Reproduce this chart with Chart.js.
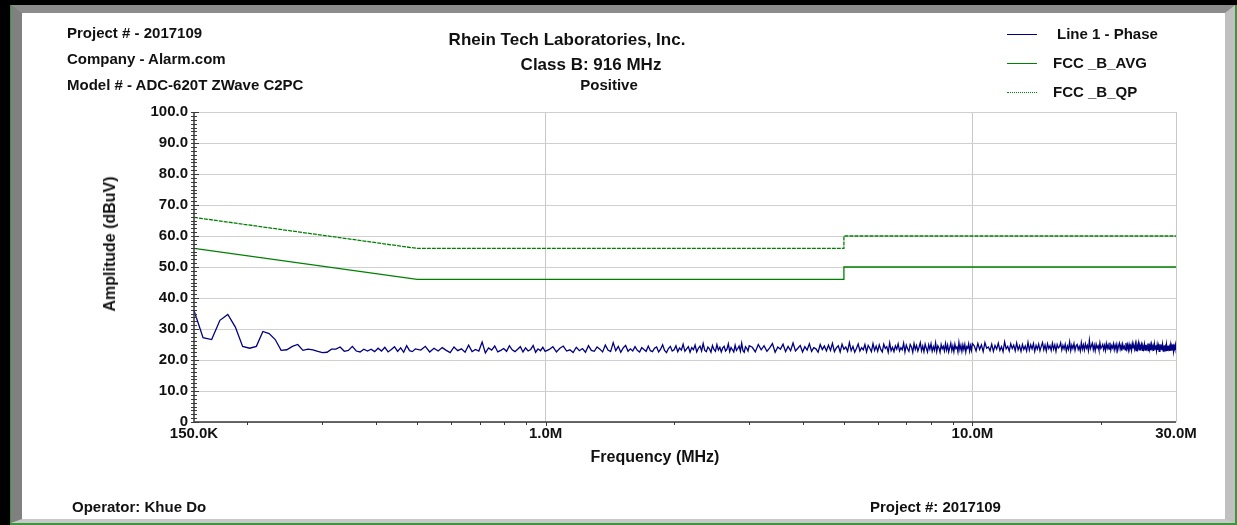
<!DOCTYPE html>
<html>
<head>
<meta charset="utf-8">
<script src="https://cdn.jsdelivr.net/npm/chart.js@4.4.0/dist/chart.umd.min.js"></script>
<style>
  html, body { margin: 0; padding: 0; }
  body { width: 1237px; height: 525px; background: #000; position: relative; overflow: hidden;
         font-family: "Liberation Sans", Arial, sans-serif; font-weight: bold; color: #111; }
  #frame { position: absolute; left: 10px; top: 5px; right: 0; bottom: 0;
           border-left: 1px solid #3c963c; border-right: 2px solid #3c963c; border-bottom: 2px solid #3c963c; }
  #bevel { position: absolute; left: 0; top: 0; right: 0; bottom: 0; background: #fff;
           border-style: solid; border-width: 8px 10px 4px 11px;
           border-color: #8c8c8c #c0c0c0 #c8c8c8 #808080; }
  #chart { position: absolute; left: 0; top: 0; }
  .txt { position: absolute; white-space: nowrap; }
  .legline { position: absolute; width: 30px; height: 0; }
</style>
</head>
<body>
<div id="frame"><div id="bevel"></div></div>
<canvas id="chart" width="1237" height="525"></canvas>

<div class="txt" style="left:67px; top:24px; font-size:15px; line-height:18px;">Project # - 2017109</div>
<div class="txt" style="left:67px; top:50px; font-size:15px; line-height:18px;">Company - Alarm.com</div>
<div class="txt" style="left:67px; top:76px; font-size:15px; line-height:18px;">Model # - ADC-620T ZWave C2PC</div>

<div class="txt" style="left:567px; top:30px; font-size:17px; line-height:20px; transform:translateX(-50%);">Rhein Tech Laboratories, Inc.</div>
<div class="txt" style="left:591px; top:55px; font-size:17px; line-height:20px; transform:translateX(-50%);">Class B: 916 MHz</div>
<div class="txt" style="left:609px; top:76px; font-size:15px; line-height:18px; transform:translateX(-50%);">Positive</div>

<div id="legend"></div>

<div class="txt" style="left:110px; top:244px; font-size:16px; line-height:18px; transform:translate(-50%,-50%) rotate(-90deg);">Amplitude (dBuV)</div>
<div class="txt" style="left:655px; top:448px; font-size:16px; line-height:18px; transform:translateX(-50%);">Frequency (MHz)</div>

<div class="txt" style="left:72px; top:498px; font-size:15px; line-height:18px;">Operator: Khue Do</div>
<div class="txt" style="left:870px; top:498px; font-size:15px; line-height:18px;">Project #: 2017109</div>

<script>
// limit lines (MHz / dBuV)
const limitFreqs = [0.15, 0.5, 5, 5, 30];
const qpLimit = [66, 56, 56, 60, 60];
const avgLimit = [56, 46, 46, 50, 50];

// axis ticks
const xTickValues = [0.15, 1, 10, 30];
const xTickLabels = ['150.0K', '1.0M', '10.0M', '30.0M'];
const xMinorTicks = [0.2, 0.3, 0.4, 0.5, 0.6, 0.7, 0.8, 0.9, 2, 3, 4, 5, 6, 7, 8, 9, 20];

// sweep bands: start freq and step (MHz)
const bandStart = [0.15, 0.51, 1.02, 3.05, 10.1];
const bandStep = [0.0075, 0.0125, 0.02, 0.05, 0.1];

// Line 1 - Phase readings (dBuV), one array per band
const phaseBand1 = [36.0, 27.2, 26.6, 32.8, 34.7, 30.6, 24.4, 23.8, 24.4, 29.2,
  28.5, 26.6, 23.1, 23.3, 24.4, 25.0, 23.1, 23.5, 23.3, 22.8,
  22.4, 22.5, 23.5, 23.5, 24.2, 22.8, 23.1, 24.4, 22.9, 22.6,
  23.5, 22.9, 23.5, 22.7, 23.8, 22.9, 24.1, 22.6, 23.4, 24.3,
  22.8, 23.9, 22.5, 24.6, 23.0, 22.7, 23.6];
const phaseBand2 = [23.2, 24.4, 22.6, 23.8, 22.9, 24.0, 23.1, 22.4, 24.2, 23.0,
  23.6, 22.5, 24.8, 22.7, 23.4, 22.9, 25.8, 22.3, 23.9, 23.2,
  24.5, 22.6, 23.1, 23.7, 22.8, 24.6, 23.3, 22.7, 23.5, 24.3,
  22.6, 23.9, 22.9, 23.4, 24.7, 22.5, 23.6, 23.0, 24.1, 22.8];
const phaseBand3 = [23.4, 24.3, 22.6, 23.8, 24.5, 22.9, 23.3, 22.4, 24.1, 23.0,
  23.7, 22.5, 24.6, 23.1, 22.8, 24.2, 23.5, 22.6, 24.8, 23.2,
  22.7, 25.6, 23.0, 24.4, 22.5, 23.9, 24.7, 22.8, 23.6, 22.9,
  24.3, 23.1, 22.6, 24.0, 23.4, 22.8, 24.5, 23.0, 22.7, 23.8,
  24.2, 22.6, 23.5, 24.9, 23.1, 22.4, 23.7, 24.4, 22.9, 23.3,
  24.6, 22.7, 23.9, 23.2, 25.1, 22.8, 23.6, 24.3, 22.5, 24.0,
  23.3, 24.8, 22.6, 23.8, 24.5, 22.9, 25.3, 23.1, 22.7, 24.2,
  23.6, 22.5, 24.7, 23.4, 22.8, 25.0, 23.2, 24.1, 22.6, 23.9,
  24.4, 22.9, 23.5, 25.2, 22.7, 24.0, 23.3, 22.6, 24.8, 23.1,
  23.7, 24.5, 22.8, 25.4, 23.0, 22.5, 24.3, 23.8, 22.9, 24.6];
const phaseBand4 = [24.1, 22.6, 25.0, 23.3, 24.6, 22.8, 23.9, 25.3, 22.5, 24.2,
  23.5, 25.1, 22.7, 24.4, 23.0, 25.5, 22.9, 23.8, 24.7, 22.6,
  24.3, 23.2, 25.2, 22.8, 24.0, 23.6, 22.5, 25.0, 23.4, 24.5,
  22.9, 24.8, 23.1, 25.4, 22.7, 23.9, 24.6, 22.6, 25.1, 23.5,
  24.2, 22.8, 25.6, 23.0, 24.4, 22.5, 23.7, 25.2, 22.9, 24.0,
  23.3, 25.0, 22.6, 24.7, 23.8, 22.7, 25.3, 23.1, 24.5, 22.8,
  24.9, 23.4, 22.6, 25.1, 23.7, 24.3, 22.5, 25.5, 23.0, 24.1,
  22.7, 24.6, 23.5, 25.2, 22.9, 24.0, 23.3, 25.4, 22.6, 24.8,
  23.6, 22.8, 25.0, 24.2, 22.5, 25.3, 23.4, 24.7, 22.9, 24.1,
  25.6, 23.0, 24.5, 22.7, 25.1, 23.8, 22.6, 24.9, 23.5, 25.2,
  22.8, 24.3, 23.1, 25.5, 22.7, 24.6, 23.9, 22.5, 25.0, 23.6,
  24.4, 22.9, 25.3, 23.2, 24.8, 22.6, 24.0, 25.4, 23.0, 24.5,
  22.7, 25.1, 23.7, 24.2, 22.6, 25.6, 23.3, 24.7, 22.8, 24.9,
  23.4, 25.0, 22.6, 24.3, 23.8, 25.2, 22.9, 24.6, 23.1, 25.3];
const phaseBand5 = [24.6, 22.9, 25.3, 23.4, 24.9, 22.7, 25.6, 23.8, 24.2, 23.0,
  25.1, 22.8, 24.7, 23.5, 25.4, 23.1, 24.3, 22.7, 25.8, 23.6,
  24.4, 22.9, 25.2, 23.7, 24.8, 23.0, 25.5, 23.3, 24.6, 22.8,
  25.0, 23.4, 24.5, 22.9, 25.7, 23.2, 24.9, 23.6, 25.3, 22.8,
  24.7, 23.5, 25.1, 23.0, 24.4, 25.6, 23.3, 24.8, 22.9, 25.2,
  23.7, 24.6, 23.1, 25.4, 23.5, 24.9, 22.8, 25.0, 23.9, 24.3,
  25.5, 23.2, 24.7, 23.6, 25.1, 22.9, 24.5, 23.4, 25.8, 23.0,
  24.8, 23.7, 25.3, 23.1, 24.6, 25.0, 23.4, 24.4, 22.9, 25.6,
  23.5, 24.9, 23.2, 25.2, 23.8, 24.7, 23.0, 26.3, 23.6, 24.5,
  25.4, 23.3, 24.8, 23.0, 25.1, 23.9, 24.6, 23.2, 25.5, 23.7,
  24.3, 25.0, 23.4, 24.7, 23.1, 25.3, 23.8, 24.9, 23.5, 25.6,
  23.2, 24.6, 23.9, 25.2, 23.3, 24.8, 23.6, 25.0, 23.1, 24.5,
  25.4, 23.5, 24.7, 23.0, 25.1, 23.8, 24.4, 23.3, 25.5, 23.6,
  24.9, 23.2, 25.0, 23.7, 24.6, 23.1, 25.3, 23.9, 24.5, 23.4,
  25.2, 23.0, 24.8, 23.6, 25.4, 23.3, 24.7, 23.8, 25.0, 23.1,
  24.4, 23.5, 25.1, 23.2, 24.9, 23.7, 24.6, 23.0, 25.3, 23.4,
  24.8, 23.1, 25.0, 23.6, 24.5, 22.9, 25.2, 23.5, 24.7, 23.0,
  24.9, 23.3, 24.6, 22.8, 25.1, 23.7, 24.4, 23.2, 25.0, 22.9,
  24.7, 23.4, 24.3, 22.8, 25.0, 23.1, 24.6, 23.5, 24.2, 22.9,
  24.8, 23.0, 24.5, 23.3, 25.1, 22.8, 24.4, 23.6, 24.9, 23.2];

const phaseBands = [phaseBand1, phaseBand2, phaseBand3, phaseBand4, phaseBand5];

// build point list for the library
const phasePoints = [];
phaseBands.forEach((vals, b) => {
  vals.forEach((v, i) => {
    const f = parseFloat((bandStart[b] + i * bandStep[b]).toFixed(4));
    phasePoints.push({ x: f, y: v });
  });
});
const qpPoints = limitFreqs.map((f, i) => ({ x: f, y: qpLimit[i] }));
const avgPoints = limitFreqs.map((f, i) => ({ x: f, y: avgLimit[i] }));

const FONT = '"Liberation Sans", Arial, sans-serif';

// axis lines and small ticks like the analyzer plot
const axisTicks = {
  id: 'axisTicks',
  afterDraw(chart) {
    const c = chart.ctx;
    const xs = chart.scales.x, ys = chart.scales.y;
    const area = chart.chartArea;
    c.save();
    c.strokeStyle = '#3a3a3a';
    c.lineWidth = 1;
    // y ticks every 1.25 dB crossing the axis
    for (let v = 0; v <= 100.001; v += 1.25) {
      const py = Math.round(ys.getPixelForValue(v)) + 0.5;
      const major = Math.abs(v % 10) < 0.01;
      c.beginPath();
      c.moveTo(area.left - 3, py);
      c.lineTo(area.left + (major ? 5 : 3), py);
      c.stroke();
    }
    // x minor ticks
    xMinorTicks.forEach(f => {
      const px = Math.round(xs.getPixelForValue(f)) + 0.5;
      c.beginPath();
      c.moveTo(px, area.bottom);
      c.lineTo(px, area.bottom + 3);
      c.stroke();
    });
    [1, 10].forEach(f => {
      const px = Math.round(xs.getPixelForValue(f)) + 0.5;
      c.beginPath();
      c.moveTo(px, area.bottom);
      c.lineTo(px, area.bottom + 4);
      c.stroke();
    });
    // axis lines
    c.lineWidth = 1.5;
    c.beginPath();
    c.moveTo(area.left, area.top);
    c.lineTo(area.left, area.bottom);
    c.lineTo(area.right, area.bottom);
    c.stroke();
    c.restore();
  }
};

const chart = new Chart(document.getElementById('chart'), {
  type: 'line',
  data: {
    datasets: [
      { label: 'Line 1 - Phase', data: phasePoints, borderColor: '#000080', borderWidth: 1.3,
        pointRadius: 0, tension: 0 },
      { label: 'FCC _B_AVG', data: avgPoints, borderColor: '#008000', borderWidth: 1.3,
        pointRadius: 0, tension: 0 },
      { label: 'FCC _B_QP', data: qpPoints, borderColor: '#008000', borderWidth: 1.3,
        borderDash: [4, 1], pointRadius: 0, tension: 0 }
    ]
  },
  options: {
    responsive: false,
    animation: false,
    layout: { padding: { left: 0, right: 61, top: 112, bottom: 73 } },
    plugins: { legend: { display: false }, tooltip: { enabled: false } },
    scales: {
      x: {
        type: 'logarithmic',
        min: 0.15,
        max: 30,
        afterBuildTicks: s => { s.ticks = xTickValues.map(v => ({ value: v, major: true })); },
        afterFit: s => { s.height = 30; },
        ticks: {
          autoSkip: false, maxRotation: 0, padding: 3, color: '#111',
          font: { family: FONT, size: 15, weight: 'bold' },
          callback: v => xTickLabels[xTickValues.indexOf(v)]
        },
        grid: { drawTicks: false, color: c => (c.tick && c.tick.value > 0.15) ? '#c8c8c8' : 'rgba(0,0,0,0)' },
        border: { display: false }
      },
      y: {
        min: 0,
        max: 100,
        afterFit: s => { s.width = 194; },
        ticks: {
          stepSize: 10, padding: 6, color: '#111',
          font: { family: FONT, size: 15, weight: 'bold' },
          callback: v => v === 0 ? '0' : v.toFixed(1)
        },
        grid: { drawTicks: false, color: '#d0d0d0' },
        border: { display: false }
      }
    }
  },
  plugins: [axisTicks]
});

// legend built from the datasets
const legendTops = [34, 63, 92];
const legendTextLeft = [1057, 1053, 1053];
const legend = document.getElementById('legend');
chart.data.datasets.forEach((ds, i) => {
  const ln = document.createElement('div');
  ln.className = 'legline';
  ln.style.left = '1007px';
  ln.style.top = legendTops[i] + 'px';
  ln.style.borderTop = '1px ' + (ds.borderDash ? 'dotted ' : 'solid ') + ds.borderColor;
  legend.appendChild(ln);
  const t = document.createElement('div');
  t.className = 'txt';
  t.style.left = legendTextLeft[i] + 'px';
  t.style.top = (legendTops[i] - 9) + 'px';
  t.style.fontSize = '15px';
  t.style.lineHeight = '18px';
  t.textContent = ds.label;
  legend.appendChild(t);
});
</script>
</body>
</html>
